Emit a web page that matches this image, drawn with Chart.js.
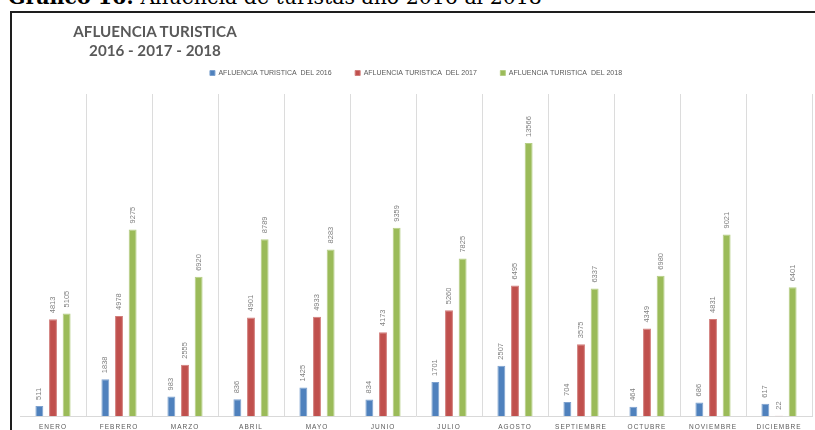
<!DOCTYPE html>
<html>
<head>
<meta charset="utf-8">
<script src="https://cdn.jsdelivr.net/npm/chart.js@4.4.1/dist/chart.umd.min.js"></script>
<style>
  html, body { margin: 0; padding: 0; background: #fff; }
  #wrap { position: relative; width: 815px; height: 430px; overflow: hidden; background: #fff; }
  #caption { position: absolute; left: 8px; top: -13px; font-family: "DejaVu Serif", serif; font-size: 20.5px; line-height: 20.5px; color: #000; white-space: nowrap; }
  #caption b { font-weight: 700; }
  #frame { position: absolute; left: 10px; top: 11px; width: 840px; height: 450px; border-left: 2px solid #1e1e1e; border-top: 2px solid #1e1e1e; }
  .ttl { position: absolute; left: 0; width: 310px; text-align: center; font-family: Lato, sans-serif; font-weight: 700; font-size: 15.2px; line-height: 15.2px; color: #595959; white-space: nowrap; }
  #t1 { top: 23.5px; }
  #t2 { top: 42.5px; }
  #chartBox { position: absolute; left: 12px; top: 13px; width: 803px; height: 425px; }
</style>
</head>
<body>
<div id="wrap">
  <div id="caption"><b>Gráfico 16:</b> Afluencia de turistas año 2016 al 2018</div>
  <div id="frame"></div>
  <div id="chartBox"><canvas id="c" width="803" height="425"></canvas></div>
  <div class="ttl" id="t1">AFLUENCIA TURISTICA</div>
  <div class="ttl" id="t2">2016 - 2017 - 2018</div>
</div>
<script>
const months = ["ENERO","FEBRERO","MARZO","ABRIL","MAYO","JUNIO","JULIO","AGOSTO","SEPTIEMBRE","OCTUBRE","NOVIEMBRE","DICIEMBRE"];
const seriesNames = ["AFLUENCIA TURISTICA  DEL 2016","AFLUENCIA TURISTICA  DEL 2017","AFLUENCIA TURISTICA  DEL 2018"];
const values2016 = [511, 1838, 983, 836, 1425, 834, 1701, 2507, 704, 464, 686, 617];
const values2017 = [4813, 4978, 2555, 4901, 4933, 4173, 5260, 6495, 3575, 4349, 4831, 22];
const values2018 = [5105, 9275, 6920, 8789, 8283, 9359, 7825, 13566, 6337, 6980, 9021, 6401];
const yMax = 16000;

const fills = ["#4F81BD", "#C0504D", "#9BBB59"];
const borders = ["#7EA2CF", "#D27E7C", "#B5CE85"];

const legendSpacer = {
  id: 'legendSpacer',
  beforeLayout(chart) {
    const lg = chart.legend;
    if (lg && !lg.__spaced) {
      const orig = lg.fit;
      lg.fit = function () { orig.call(this); this.height += 7.5; };
      lg.__spaced = true;
    }
  }
};

const barLabels = {
  id: 'barLabels',
  afterDatasetsDraw(chart) {
    const ctx = chart.ctx;
    ctx.save();
    ctx.letterSpacing = '0px';
    ctx.font = '7.5px "Liberation Sans", Arial, sans-serif';
    ctx.fillStyle = '#808080';
    ctx.textAlign = 'left';
    ctx.textBaseline = 'middle';
    chart.data.datasets.forEach((ds, di) => {
      const meta = chart.getDatasetMeta(di);
      meta.data.forEach((bar, i) => {
        ctx.save();
        ctx.translate(bar.x, bar.y - 6);
        ctx.rotate(-Math.PI / 2);
        ctx.fillText(String(ds.data[i]), 0, 0);
        ctx.restore();
      });
    });
    ctx.restore();
    ctx.letterSpacing = '1px';
  },
  afterDraw(chart) {
    chart.ctx.letterSpacing = '0px';
  }
};

const datasets = [values2016, values2017, values2018].map((vals, k) => ({
  label: seriesNames[k],
  data: vals,
  backgroundColor: fills[k],
  borderColor: borders[k],
  borderWidth: 1,
  categoryPercentage: 0.62,
  barPercentage: 0.58
}));

new Chart(document.getElementById('c'), {
  type: 'bar',
  data: { labels: months, datasets },
  plugins: [legendSpacer, barLabels],
  options: {
    responsive: false,
    animation: false,
    devicePixelRatio: 1,
    layout: { padding: { top: 33, left: 8, right: 3, bottom: 0 } },
    scales: {
      x: {
        grid: {
          offset: true,
          drawTicks: false,
          color: (c) => c.index === 0 ? 'rgba(0,0,0,0)' : '#dcdcdc',
          lineWidth: 1
        },
        border: { display: true, color: '#d9d9d9' },
        ticks: {
          z: 1,
          color: '#595959',
          font: { family: '"Liberation Sans", Arial, sans-serif', size: 6.5 },
          padding: 7,
          maxRotation: 0,
          autoSkip: false
        }
      },
      y: { display: false, min: 0, max: yMax }
    },
    plugins: {
      tooltip: { enabled: false },
      title: { display: false },
      legend: {
        position: 'top',
        labels: {
          boxWidth: 5,
          boxHeight: 5,
          padding: 23.5,
          color: '#595959',
          font: { family: '"Liberation Sans", Arial, sans-serif', size: 7 }
        }
      }
    }
  }
});
</script>
</body>
</html>
